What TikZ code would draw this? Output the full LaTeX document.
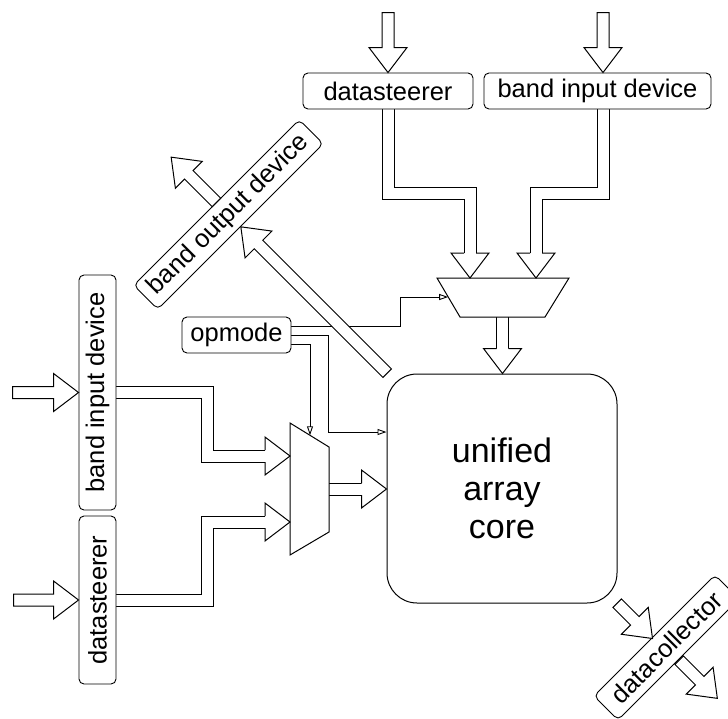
\documentclass[tikz,border=0pt]{standalone}
\usepackage{fontspec}
\setmainfont{Liberation Sans}
\usetikzlibrary{calc,arrows.meta}
\pgfdeclarelayer{back}
\pgfsetlayers{back,main}
\begin{document}
\begin{tikzpicture}[x=1pt,y=-1pt,
  lbl/.style={draw, line width=0.9pt, rounded corners=5pt, fill=white, inner sep=0pt,
              font=\fontsize{25.5}{30}\selectfont},
  bus/.style={draw, line width=1pt, double=white, double distance=11pt, line join=miter},
  ctrl/.style={draw, line width=0.9pt, -{Triangle[open, length=9pt, width=6pt]}},
  mux/.style={draw, line width=1pt, fill=white, line join=miter},
  pics/fatarrow/.style={code={%
    \filldraw[line width=1pt, fill=white, line join=miter]
      (-#1,6) -- (-25,6) -- (-25,19) -- (0,0) -- (-25,-19) -- (-25,-6) -- (-#1,-6) -- cycle;}},
  pics/fathead/.style={code={%
    \filldraw[line width=1pt, fill=white, line join=miter]
      (-25,6) -- (-25,19) -- (0,0) -- (-25,-19) -- (-25,-6);}}
]
\useasboundingbox (0,0) rectangle (728,718);

% labelled blocks
\node[lbl, minimum width=170pt, minimum height=36pt] (dsT) at (388,91) {datasteerer};
\node[lbl, minimum width=227pt, minimum height=36pt] (biT) at (597.5,91) {band input device};
\node[lbl, minimum width=109pt, minimum height=36pt] (op) at (236.5,335) {opmode};
\node[lbl, rotate=90, minimum width=235pt, minimum height=37pt] (biL) at (97.5,392.5) {band input device};
\node[lbl, rotate=90, minimum width=168pt, minimum height=37pt] (dsL) at (97.5,600) {datasteerer};
\node[lbl, rotate=45, minimum width=234pt, minimum height=34pt] (bo) at (228.5,214.5) {band output device};
\node[lbl, rotate=45, minimum width=171pt, minimum height=34pt] (dc) at (666.5,647.5) {datacollector};
\node[draw, line width=1pt, rounded corners=30pt, minimum width=230pt, minimum height=229pt,
      align=center, font=\fontsize{34}{38}\selectfont] (core) at (502,488.5) {unified\\array\\core};

% multiplexers
\coordinate (mT1) at (437,278); \coordinate (mT2) at (569,278);
\coordinate (mT3) at (545,317); \coordinate (mT4) at (460,317);
\draw[mux] (mT1) -- (mT2) -- (mT3) -- (mT4) -- cycle;
\coordinate (mL1) at (290,423); \coordinate (mL2) at (329,447);
\coordinate (mL3) at (329,532); \coordinate (mL4) at (290,555);
\draw[mux] (mL1) -- (mL2) -- (mL3) -- (mL4) -- cycle;

% mux ports
\coordinate (tA) at (470,278);
\coordinate (tB) at (536,278);
\coordinate (tC) at (290,456);
\coordinate (tD) at (290,522);
\coordinate (mTsel) at (448.2,297);
\coordinate (mLsel) at (310,435.3);
\coordinate (mTout) at (502.5,317);
\coordinate (mLout) at (329,489);

\begin{pgfonlayer}{back}
  % opmode select lines
  \draw[ctrl] ($(op.east)+(0,-9)$) -- (400,326) |- (mTsel);
  \draw[ctrl] (op.east) -- (328,335) |- ($(core.west)+(0,-56.5)$);
  \draw[ctrl] ($(op.east)+(0,9)$) -| (mLsel);
  % wide data buses
  \draw[bus] (dsT.south) -- (388,193) -| ($(tA)+(0,-25)$);
  \draw[bus] ($(biT.south)+(5.5,0)$) -- (603,193) -| ($(tB)+(0,-25)$);
  \draw[bus] (mTout) -- ($(core.north)+(0.5,-25)$);
  \draw[bus] (biL.south) -- (207,392.5) |- ($(tC)+(-25,0)$);
  \draw[bus] (dsL.south) -- (207,600) |- ($(tD)+(-25,0)$);
  \draw[bus] (mLout) -- ($(core.west)+(-25,0.5)$);
\end{pgfonlayer}

% bus heads
\pic[rotate=-90] at (tA) {fathead};
\pic[rotate=-90] at (tB) {fathead};
\pic[rotate=-90] at ($(core.north)+(0.5,0)$) {fathead};
\pic at (tC) {fathead};
\pic at (tD) {fathead};
\pic at ($(core.west)+(0,0.5)$) {fathead};

% external inputs
\pic[rotate=-90] at (dsT.north) {fatarrow=60};
\pic[rotate=-90] at ($(biT.north)+(5.5,0)$) {fatarrow=60};
\pic at (biL.north) {fatarrow=66};
\pic at (dsL.north) {fatarrow=65};

% band output path
\pic[rotate=135] at (bo.south) {fatarrow=207};
\pic[rotate=135] at ($(bo.north)+(-45,-45)$) {fatarrow=64};

% collector path
\pic[rotate=-45] at (652.5,638.5) {fatarrow=50};
\pic[rotate=-45] at ($(dc.south)+(38.5,38.5)$) {fatarrow=54};
\end{tikzpicture}
\end{document}
